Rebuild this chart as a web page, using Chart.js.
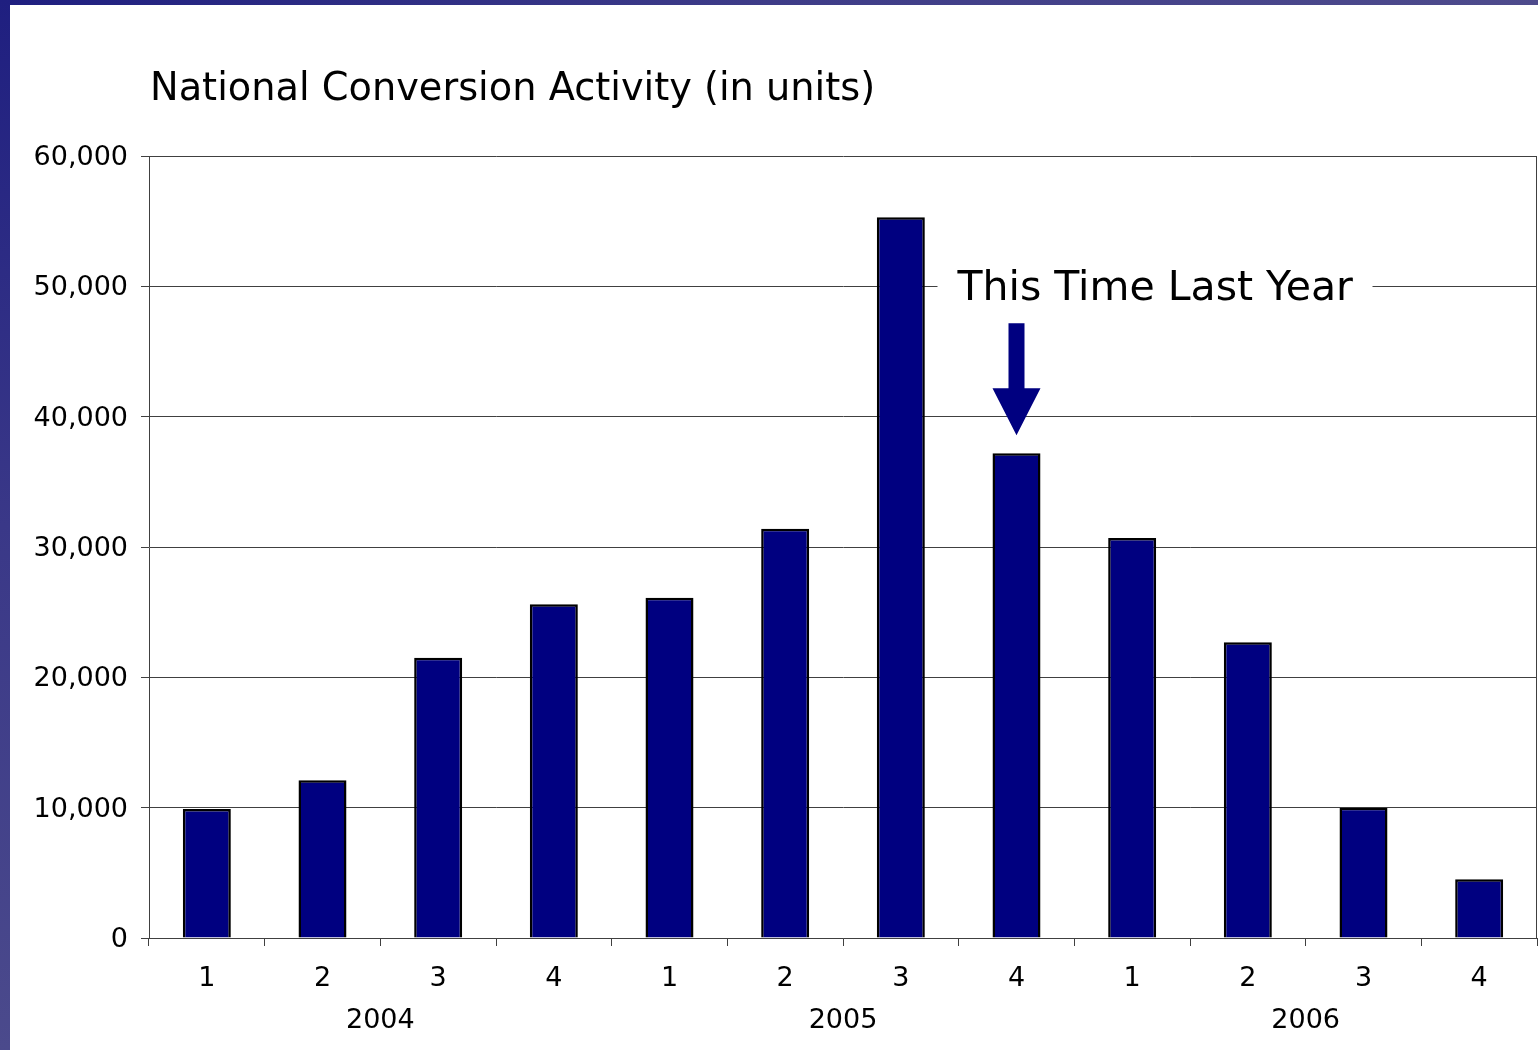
<!DOCTYPE html>
<html>
<head>
<meta charset="utf-8">
<title>National Conversion Activity</title>
<script src="https://cdn.jsdelivr.net/npm/chart.js@4/dist/chart.umd.min.js"></script>
<style>
  html, body { margin: 0; padding: 0; background: #ffffff; overflow: hidden; }
  #wrap { position: relative; width: 1538px; height: 1050px; }
  #chart { position: absolute; left: 0; top: 0; }
  .edge-left { position: absolute; left: 0; top: 0; width: 10px; height: 1050px;
    background: linear-gradient(to bottom, #1f1f80, #3a3888 50%, #4b4a8c); z-index: 2; }
  .edge-top { position: absolute; left: 0; top: 0; width: 1538px; height: 5px;
    background: linear-gradient(to right, #1f1f80, #3e3c88 50%, #4e4b8c); z-index: 2; }
</style>
</head>
<body>
<div id="wrap">
  <div class="edge-top"></div>
  <div class="edge-left"></div>
  <canvas id="chart" width="1538" height="1050"></canvas>
</div>
<script>
// Quarterly conversion activity, national totals
const quarters = ['1', '2', '3', '4', '1', '2', '3', '4', '1', '2', '3', '4'];
const years = ['2004', '2005', '2006'];
const units = [9900, 12100, 21500, 25600, 26100, 31400, 55300, 37200, 30700, 22700, 10000, 4500];
const yTicks = [0, 10000, 20000, 30000, 40000, 50000, 60000];

const chartTitle = 'National Conversion Activity (in units)';
const calloutText = 'This Time Last Year';
const calloutIndex = 7;        // quarter the arrow points at
const calloutLevel = 50000;    // gridline the callout sits on

const FONT = '"DejaVu Sans", "Verdana", sans-serif';

// Title, frame, year labels and the arrow callout
const decorations = {
  id: 'decorations',
  afterDraw(chart) {
    const { ctx, chartArea, scales } = chart;
    const x = scales.x, y = scales.y;
    ctx.save();

    // right edge of the plot frame
    ctx.strokeStyle = '#404040';
    ctx.lineWidth = 1;
    ctx.beginPath();
    ctx.moveTo(Math.round(chartArea.right) - 0.5, chartArea.top);
    ctx.lineTo(Math.round(chartArea.right) - 0.5, chartArea.bottom);
    ctx.stroke();

    // title
    ctx.fillStyle = '#000000';
    ctx.font = '38.3px ' + FONT;
    ctx.textAlign = 'left';
    ctx.textBaseline = 'middle';
    ctx.fillText(chartTitle, chartArea.left + 1, 90);

    // year labels centred under each group of four quarters
    ctx.font = '27px ' + FONT;
    ctx.textAlign = 'center';
    years.forEach((yr, g) => {
      const a = x.getPixelForValue(g * 4);
      const b = x.getPixelForValue(g * 4 + 3);
      ctx.fillText(yr, (a + b) / 2, 1021);
    });

    // callout text sitting on the gridline
    const bx = x.getPixelForValue(calloutIndex);
    const ly = y.getPixelForValue(calloutLevel);
    ctx.fillStyle = '#ffffff';
    ctx.fillRect(bx - 79, ly - 26, 435, 52);
    ctx.fillStyle = '#000000';
    ctx.font = '41px ' + FONT;
    ctx.textAlign = 'left';
    ctx.textBaseline = 'middle';
    ctx.fillText(calloutText, bx - 59, ly + 3);

    // down arrow above the highlighted bar
    const tip = y.getPixelForValue(units[calloutIndex]) - 18;
    const headTop = tip - 47;
    const shaftTop = headTop - 65;
    ctx.fillStyle = '#000080';
    ctx.beginPath();
    ctx.moveTo(bx - 8, shaftTop);
    ctx.lineTo(bx + 8, shaftTop);
    ctx.lineTo(bx + 8, headTop);
    ctx.lineTo(bx + 24, headTop);
    ctx.lineTo(bx, tip);
    ctx.lineTo(bx - 24, headTop);
    ctx.lineTo(bx - 8, headTop);
    ctx.closePath();
    ctx.fill();

    ctx.restore();
  }
};

new Chart(document.getElementById('chart'), {
  type: 'bar',
  data: {
    labels: quarters,
    datasets: [{
      data: units,
      backgroundColor: '#000080',
      borderColor: '#000000',
      borderWidth: 2.5,
      borderSkipped: 'bottom',
      barPercentage: 0.415,
      categoryPercentage: 1.0
    }]
  },
  options: {
    responsive: false,
    animation: false,
    events: [],
    layout: { padding: { top: 156, left: 0, right: 1, bottom: 0 } },
    plugins: {
      legend: { display: false },
      title: { display: false },
      tooltip: { enabled: false }
    },
    scales: {
      x: {
        offset: true,
        grid: {
          offset: true,
          drawOnChartArea: false,
          drawTicks: true,
          tickLength: 8,
          color: '#404040',
          lineWidth: 1
        },
        border: { display: true, color: '#404040', width: 1 },
        ticks: {
          color: '#000000',
          font: { family: FONT, size: 27 },
          padding: 17,
          maxRotation: 0,
          autoSkip: false
        },
        afterFit(scale) { scale.height = 112; }
      },
      y: {
        min: 0,
        max: 60000,
        afterBuildTicks(scale) { scale.ticks = yTicks.map(v => ({ value: v })); },
        grid: {
          color: '#404040',
          lineWidth: 1,
          drawTicks: true,
          tickLength: 8
        },
        border: { display: true, color: '#404040', width: 1 },
        ticks: {
          color: '#000000',
          font: { family: FONT, size: 27 },
          padding: 13,
          labelOffset: 2,
          callback: v => v.toLocaleString('en-US')
        },
        afterFit(scale) { scale.width = 149; }
      }
    }
  },
  plugins: [decorations]
});
</script>
</body>
</html>
